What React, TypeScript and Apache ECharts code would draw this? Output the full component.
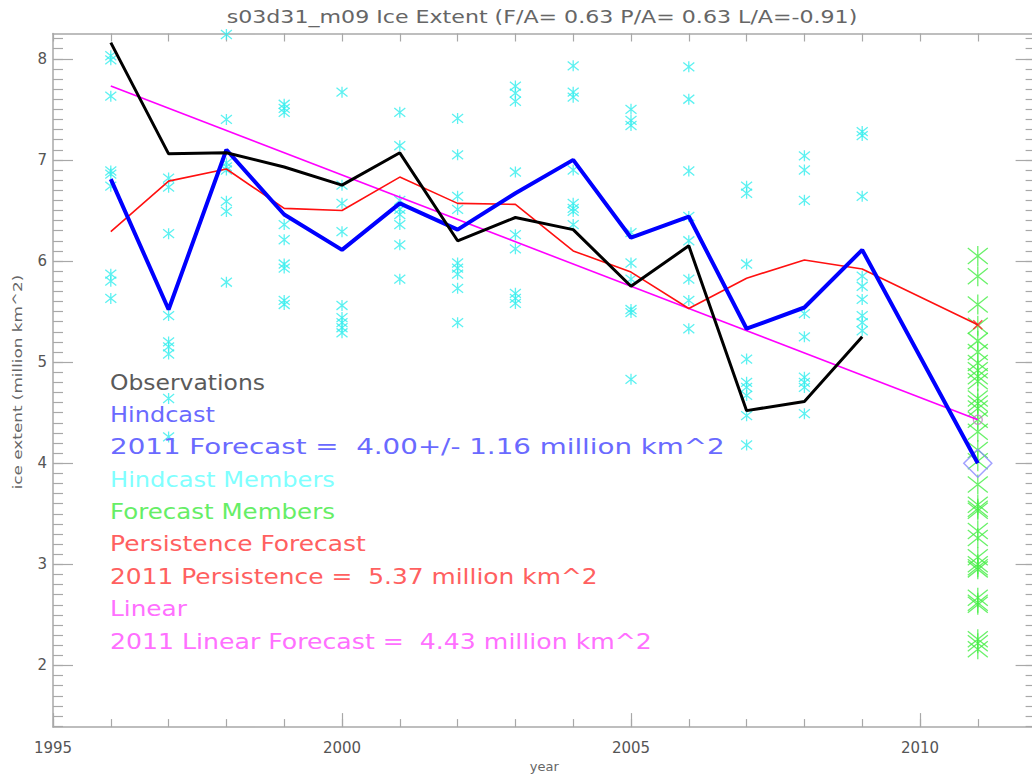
import React, { useEffect, useRef } from "react";
import * as echarts from "echarts";

// ---------- data ----------
const titleText = "s03d31_m09 Ice Extent (F/A= 0.63 P/A= 0.63 L/A=-0.91)";
const xAxisName = "year";
const yAxisName = "ice extent (million km^2)";
const years = [1996, 1997, 1998, 1999, 2000, 2001, 2002, 2003, 2004, 2005, 2006, 2007, 2008, 2009];
const observations = [8.16, 7.06, 7.07, 6.93, 6.75, 7.07, 6.2, 6.43, 6.31, 5.75, 6.15, 4.52, 4.61, 5.25];
const hindcast = [6.81, 5.52, 7.1, 6.46, 6.11, 6.57, 6.31, 6.67, 7.0, 6.23, 6.44, 5.33, 5.54, 6.11];
const persistence = [6.29, 6.79, 6.91, 6.52, 6.5, 6.83, 6.57, 6.56, 6.1, 5.89, 5.53, 5.83, 6.01, 5.92];
const forecastYear = 2011;
const forecastValue = 4.0;
const forecastSpread = 1.16;
const persistenceForecast = 5.37;
const linearYears = [1996, 2011];
const linearValues = [7.73, 4.43];
const hindcastMembers = [
  [8.03, 7.99, 7.63, 6.89, 6.86, 6.74, 5.87, 5.8, 5.63],
  [6.82, 6.73, 6.27, 5.46, 5.2, 5.15, 5.08, 4.64, 4.26],
  [8.24, 7.4, 6.97, 6.93, 6.9, 6.59, 6.49, 5.79],
  [7.55, 7.51, 7.47, 6.36, 6.21, 5.97, 5.93, 5.61, 5.57],
  [7.67, 6.75, 6.57, 6.29, 5.56, 5.44, 5.39, 5.34, 5.29],
  [7.47, 7.14, 6.6, 6.51, 6.46, 6.36, 6.16, 5.82],
  [7.41, 7.05, 6.64, 6.51, 5.98, 5.93, 5.87, 5.73, 5.39],
  [7.73, 7.66, 7.58, 6.88, 6.26, 6.12, 5.68, 5.63, 5.58],
  [7.93, 7.67, 7.62, 6.9, 6.57, 6.52, 6.49, 6.36],
  [7.5, 7.39, 7.34, 6.28, 5.98, 5.82, 5.52, 5.49, 4.83],
  [7.92, 7.6, 6.89, 6.44, 6.2, 5.82, 5.61, 5.33],
  [6.74, 6.67, 5.97, 5.03, 4.8, 4.75, 4.67, 4.47, 4.18],
  [7.04, 6.9, 6.6, 5.48, 5.25, 4.85, 4.8, 4.75, 4.49],
  [7.28, 7.24, 6.64, 5.85, 5.75, 5.62, 5.46, 5.39, 5.31],
];
const forecastMembers = [
  6.05, 5.85, 5.57, 5.36, 5.21, 5.1, 4.99, 4.92, 4.86, 4.81, 4.64, 4.59, 4.54, 4.43, 4.31, 4.13, 4.02,
  3.79, 3.59, 3.55, 3.53, 3.33, 3.26, 3.07, 3.0, 2.97, 2.95, 2.67, 2.62, 2.6, 2.26, 2.22, 2.16,
];
const xMin = 1995;
const xMax = 2012;
const yMin = 1.39;
const yMax = 8.25;
const xLabelTicks = [1995, 2000, 2005, 2010];
const xMinorTicks = [1995, 1996, 1997, 1998, 1999, 2000, 2001, 2002, 2003, 2004, 2005, 2006, 2007, 2008, 2009, 2010, 2011, 2012];
const yLabelTicks = [2, 3, 4, 5, 6, 7, 8];

const AXIS_COLOR = "#a8a8a8";
const LABEL_COLOR = "#555";
const FONT = "DejaVu Sans";
const ASTER = "path://M0,-10L0,10M-10,-8L10,8M-10,8L10,-8";
const XMARK = "path://M-10,-10L10,10M-10,10L10,-10";
const NB = "\u00a0";

function measure(text: string, font: string): number {
  const c = document.createElement("canvas").getContext("2d");
  if (!c) return text.length * 10;
  c.font = font;
  return c.measureText(text).width;
}

export default function App() {
  const ref = useRef<HTMLDivElement>(null);
  useEffect(() => {
    if (!ref.current) return;
    const chart = echarts.init(ref.current, undefined, { renderer: "svg" });

    const yMinor: number[] = [];
    for (let v = Math.ceil(yMin * 10); v <= Math.floor(yMax * 10); v++) yMinor.push(v / 10);

    const memberData: number[][] = [];
    years.forEach((y, i) => hindcastMembers[i].forEach((v) => memberData.push([y, v])));
    const fcMemberData = forecastMembers.map((v) => [forecastYear, v]);

    const baseX = { type: "value", min: xMin, max: xMax, splitLine: { show: false } };
    const baseY = { type: "value", min: yMin, max: yMax, splitLine: { show: false } };

    const legendFont = `21px "${FONT}"`;
    const legendLines = [
      { t: "Observations", c: "#5a5a5a", end: 265 },
      { t: "Hindcast", c: "#6a6aff", end: 215 },
      { t: `2011 Forecast =${NB}${NB}${forecastValue.toFixed(2)}+/-${NB}${forecastSpread.toFixed(2)} million km^2`, c: "#6a6aff", end: 725 },
      { t: "Hindcast Members", c: "#80ffff", end: 335 },
      { t: "Forecast Members", c: "#66ee66", end: 335 },
      { t: "Persistence Forecast", c: "#ff6060", end: 366 },
      { t: `2011 Persistence =${NB}${NB}${persistenceForecast.toFixed(2)} million km^2`, c: "#ff6060", end: 598 },
      { t: "Linear", c: "#ff70ff", end: 187 },
      { t: `2011 Linear Forecast =${NB}${NB}${linearValues[1].toFixed(2)} million km^2`, c: "#ff70ff", end: 652 },
    ];

    const titleFont = `18px "${FONT}"`;
    const titleScale = 631 / measure(titleText, titleFont);
    const yNameFont = `13px "${FONT}"`;
    const yNameScale = 215 / measure(yAxisName, yNameFont);

    chart.setOption({
      animation: false,
      backgroundColor: "#fff",
      grid: { left: 53, right: 9.4, top: 33.5, bottom: 48 },
      xAxis: [
        {
          ...baseX,
          position: "bottom",
          name: xAxisName,
          nameLocation: "middle",
          nameGap: 30,
          nameTextStyle: { fontFamily: FONT, fontSize: 13, color: "#666" },
          axisLine: { show: true, lineStyle: { color: AXIS_COLOR, width: 1.5 } },
          axisTick: { show: true, inside: true, length: 14, customValues: xLabelTicks, lineStyle: { color: AXIS_COLOR, width: 1.2 } },
          axisLabel: {
            customValues: xLabelTicks,
            margin: 13,
            fontFamily: FONT,
            fontSize: 15,
            color: LABEL_COLOR,
            formatter: (v: number) => String(Math.round(v)),
          },
        },
        {
          ...baseX,
          position: "bottom",
          axisLine: { show: false },
          axisTick: { show: true, inside: true, length: 8, customValues: xMinorTicks, lineStyle: { color: AXIS_COLOR, width: 1.2 } },
          axisLabel: { show: false },
        },
        {
          ...baseX,
          position: "top",
          axisLine: { show: true, lineStyle: { color: AXIS_COLOR, width: 1.5 } },
          axisTick: { show: true, inside: true, length: 8, customValues: xMinorTicks, lineStyle: { color: AXIS_COLOR, width: 1.2 } },
          axisLabel: { show: false },
        },
      ],
      yAxis: [
        {
          ...baseY,
          position: "left",
          axisLine: { show: true, lineStyle: { color: AXIS_COLOR, width: 1.5 } },
          axisTick: { show: true, inside: true, length: 20, customValues: yLabelTicks, lineStyle: { color: AXIS_COLOR, width: 1.2 } },
          axisLabel: {
            customValues: yLabelTicks,
            margin: 6,
            fontFamily: FONT,
            fontSize: 15,
            color: LABEL_COLOR,
            formatter: (v: number) => String(Math.round(v)),
          },
        },
        {
          ...baseY,
          position: "left",
          axisLine: { show: false },
          axisTick: { show: true, inside: true, length: 10, customValues: yMinor, lineStyle: { color: AXIS_COLOR, width: 1.2 } },
          axisLabel: { show: false },
        },
        {
          ...baseY,
          position: "right",
          axisLine: { show: true, lineStyle: { color: AXIS_COLOR, width: 1.5 } },
          axisTick: { show: true, inside: true, length: 20, customValues: yLabelTicks, lineStyle: { color: AXIS_COLOR, width: 1.2 } },
          axisLabel: { show: false },
        },
        {
          ...baseY,
          position: "right",
          axisLine: { show: false },
          axisTick: { show: true, inside: true, length: 10, customValues: yMinor, lineStyle: { color: AXIS_COLOR, width: 1.2 } },
          axisLabel: { show: false },
        },
      ],
      series: [
        {
          type: "scatter",
          name: "Hindcast Members",
          data: memberData,
          symbol: ASTER,
          symbolSize: 11,
          itemStyle: { color: "transparent", borderColor: "#33eeee", borderWidth: 1.3 },
        },
        {
          type: "scatter",
          name: "Forecast Members",
          data: fcMemberData,
          symbol: ASTER,
          symbolSize: 20,
          itemStyle: { color: "transparent", borderColor: "#44ee44", borderWidth: 1.3 },
        },
        {
          type: "line",
          name: "Linear",
          data: linearYears.map((y, i) => [y, linearValues[i]]),
          showSymbol: false,
          lineStyle: { color: "#ff00ff", width: 1.6 },
        },
        {
          type: "line",
          name: "Persistence",
          data: [...years.map((y, i) => [y, persistence[i]]), [forecastYear, persistenceForecast]],
          showSymbol: false,
          lineStyle: { color: "#ff1010", width: 1.6 },
        },
        {
          type: "line",
          name: "Hindcast",
          data: [...years.map((y, i) => [y, hindcast[i]]), [forecastYear, forecastValue]],
          showSymbol: false,
          lineStyle: { color: "#0000ff", width: 4 },
        },
        {
          type: "line",
          name: "Observations",
          data: years.map((y, i) => [y, observations[i]]),
          showSymbol: false,
          lineStyle: { color: "#000", width: 3 },
        },
        {
          type: "scatter",
          name: "Forecast",
          data: [[forecastYear, forecastValue]],
          symbol: "diamond",
          symbolSize: 28,
          itemStyle: { color: "transparent", borderColor: "#8a8aff", borderWidth: 1.5 },
        },
        {
          type: "scatter",
          name: "Persistence 2011",
          data: [[forecastYear, persistenceForecast]],
          symbol: XMARK,
          symbolSize: 9,
          itemStyle: { color: "transparent", borderColor: "#ff2020", borderWidth: 1.5 },
        },
        {
          type: "scatter",
          name: "Linear 2011",
          data: [[forecastYear, linearValues[1]]],
          symbol: "circle",
          symbolSize: 9,
          itemStyle: { color: "transparent", borderColor: "#c080c0", borderWidth: 1.3 },
        },
      ],
      graphic: [
        {
          type: "text",
          x: 542,
          y: 17,
          scaleX: titleScale,
          z: 10,
          style: { text: titleText, fill: "#666", font: titleFont, align: "center", verticalAlign: "middle" },
        },
        {
          type: "text",
          x: 18,
          y: 382,
          rotation: Math.PI / 2,
          scaleX: yNameScale,
          z: 10,
          style: { text: yAxisName, fill: "#666", font: yNameFont, align: "center", verticalAlign: "middle" },
        },
        ...legendLines.map((l, i) => ({
          type: "text",
          x: 110,
          y: 382 + i * 32.4,
          scaleX: (l.end - 110) / measure(l.t, legendFont),
          z: 10,
          style: { text: l.t, fill: l.c, font: legendFont, align: "left", verticalAlign: "middle" },
        })),
      ],
    });
    return () => chart.dispose();
  }, []);

  return (
    <div style={{ position: "fixed", left: 0, top: 0, width: 1032, height: 778, overflow: "hidden", background: "#fff" }}>
      <div ref={ref} style={{ width: 1045, height: 778 }} />
    </div>
  );
}
